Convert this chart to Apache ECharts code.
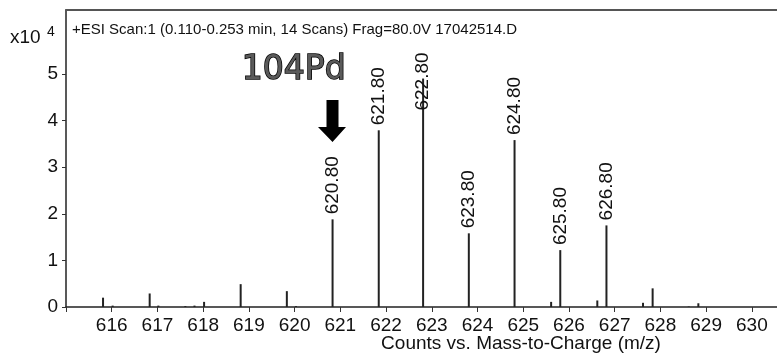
<!DOCTYPE html>
<html>
<head>
<meta charset="utf-8">
<script src="https://cdn.jsdelivr.net/npm/echarts@6/dist/echarts.min.js"></script>
<style>
html,body{margin:0;padding:0;background:#fff;}
#main{width:777px;height:354px;}
</style>
</head>
<body>
<div id="main"></div>
<script>
// ---- data (counts in x10^4) ----
var mz = [615.81, 616.02, 616.83, 617.02, 617.61, 617.81, 618.02, 618.82, 619.83, 620.03,
          620.83, 621.84, 622.81, 623.81, 624.81, 625.61, 625.81, 626.62, 626.82, 627.62,
          627.83, 628.62, 628.83];
var counts = [0.20, 0.03, 0.29, 0.03, 0.02, 0.03, 0.11, 0.49, 0.34, 0.02,
              1.88, 3.79, 4.90, 1.58, 3.58, 0.11, 1.22, 0.14, 1.75, 0.09,
              0.40, 0.01, 0.08];
var peakLabels = ['', '', '', '', '', '', '', '', '', '',
                  '620.80', '621.80', '622.80', '623.80', '624.80', '', '625.80', '', '626.80', '',
                  '', '', ''];
var yTicks = [0, 1, 2, 3, 4, 5];
var titleText = '+ESI Scan:1 (0.110-0.253 min, 14 Scans) Frag=80.0V 17042514.D';
var xName = 'Counts vs. Mass-to-Charge (m/z)';
var annotation = '104Pd';

var FONT = 'Liberation Sans, Arial, sans-serif';

var seriesData = mz.map(function (x, i) {
  var item = { value: [x, counts[i]], name: peakLabels[i] };
  if (peakLabels[i] === '622.80') {
    item.label = { distance: -32 };
  }
  return item;
});

var chart = echarts.init(document.getElementById('main'), null, { renderer: 'canvas' });
chart.setOption({
  animation: false,
  backgroundColor: '#fff',
  grid: { left: 66, right: 0, top: 10, bottom: 47, outerBoundsMode: 'none', containLabel: false },
  xAxis: [{
    type: 'value',
    min: 615, max: 630.55, interval: 1,
    splitLine: { show: false },
    axisLine: { show: true, lineStyle: { color: '#222', width: 1.5 } },
    axisTick: { show: true, length: 5, lineStyle: { color: '#333', width: 1 } },
    axisLabel: {
      color: '#111', fontSize: 19, fontFamily: FONT, margin: 9,
      formatter: function (v) { return v === 615 ? '' : String(v); }
    }
  }, {
    type: 'value', position: 'top',
    min: 615, max: 630.55,
    splitLine: { show: false },
    axisLine: { show: true, lineStyle: { color: '#555', width: 2 } },
    axisTick: { show: false },
    axisLabel: { show: false }
  }],
  yAxis: {
    type: 'value',
    min: 0, max: 6.37,
    splitLine: { show: false },
    axisLine: { show: true, lineStyle: { color: '#222', width: 1.5 } },
    axisTick: { show: true, length: 4, customValues: yTicks, lineStyle: { color: '#333' } },
    axisLabel: { customValues: yTicks, color: '#111', fontSize: 19, fontFamily: FONT, margin: 8 }
  },
  series: [{
    type: 'bar',
    xAxisIndex: 0,
    barWidth: 2,
    itemStyle: { color: '#222' },
    label: {
      show: true,
      position: 'top',
      rotate: 90,
      align: 'left',
      verticalAlign: 'middle',
      distance: 5,
      color: '#111',
      fontSize: 19,
      fontFamily: FONT,
      formatter: function (p) { return p.name; }
    },
    data: seriesData
  }],
  graphic: [
    { type: 'text', left: 72, top: 22,
      style: { text: titleText, fill: '#111', font: '15px ' + FONT } },
    { type: 'text', left: 10, top: 28,
      style: { text: 'x10', fill: '#111', font: '19px ' + FONT } },
    { type: 'text', left: 47, top: 25,
      style: { text: '4', fill: '#111', font: '14px ' + FONT } },
    { type: 'text', x: 521, y: 344,
      style: { text: xName, fill: '#111', font: '19px ' + FONT, align: 'center', verticalAlign: 'middle' } },
    { type: 'text', left: 241, top: 53, z: 10,
      style: {
        text: annotation,
        font: '33px DejaVu Sans, sans-serif',
        fill: '#5a5a5a',
        stroke: '#000', lineWidth: 1.5,
        shadowColor: 'rgba(0,0,0,0.55)', shadowBlur: 5
      } },
    { type: 'polygon', z: 10,
      shape: { points: [[326.5, 100], [338.5, 100], [338.5, 127], [346, 127], [332.5, 142], [318, 127], [326.5, 127]] },
      style: { fill: '#000' } }
  ]
});
</script>
</body>
</html>
